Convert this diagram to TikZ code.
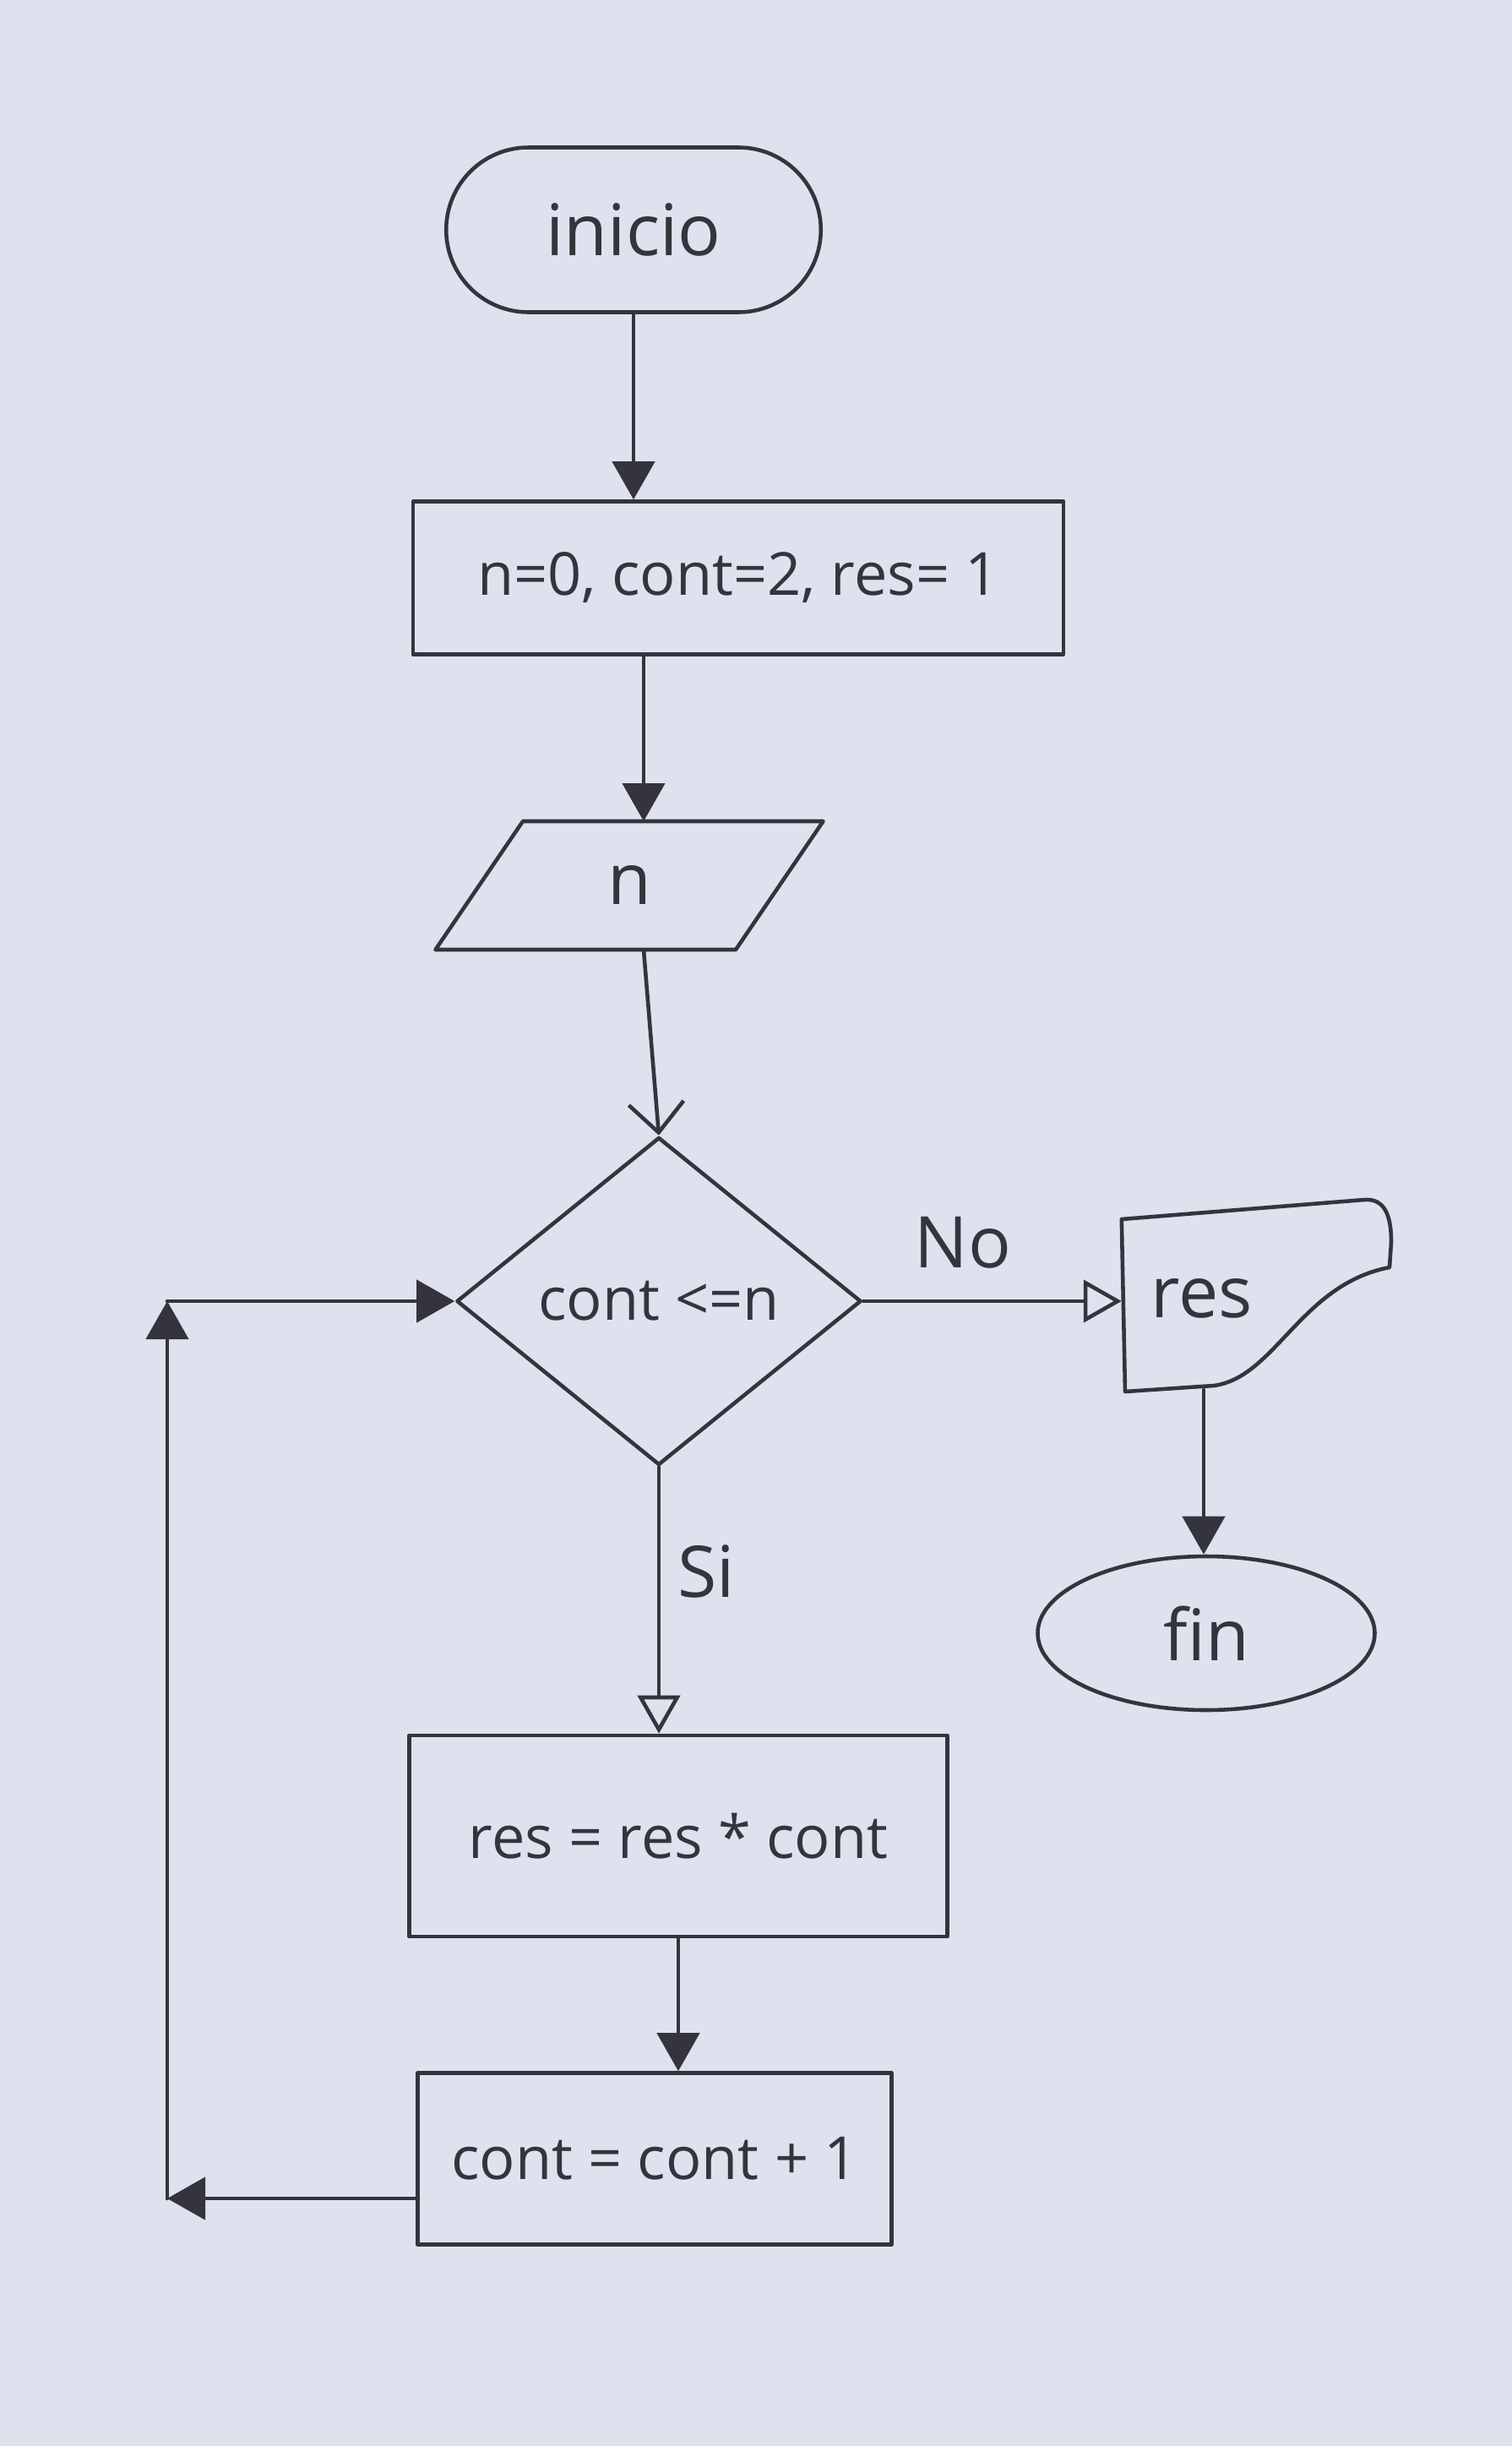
\documentclass[tikz,border=0pt]{standalone}
\usepackage{fontspec}
\setmainfont{Open Sans}
\usetikzlibrary{arrows.meta,shapes.geometric,shapes.misc,calc}
\definecolor{paper}{RGB}{224,225,238}
\definecolor{ink}{RGB}{52,52,60}
\tikzset{
  pen/.style={draw=ink, line width=1.3pt, line join=round, line cap=round},
  txt/.style={text=ink, font=\fontsize{20}{24}\selectfont},
  bigtxt/.style={text=ink, font=\fontsize{24}{28}\selectfont},
  fillarrow/.style={pen, -{Triangle[length=0.45cm,width=0.5cm]}, fill=none},
  openarrow/.style={pen, -{Triangle[open,length=0.45cm,width=0.5cm]}},
  barbarrow/.style={pen, -{Straight Barb[length=0.35cm,width=0.65cm]}},
}
\begin{document}
\begin{tikzpicture}
\fill[paper] (0,0) rectangle (17.9,-28.95);
\useasboundingbox (0,0) rectangle (17.9,-28.95);

% terminals
\node[pen, bigtxt, rounded rectangle, minimum width=4.67cm, minimum height=1.95cm] (inicio) at (7.50,-2.72) {inicio};
\node[pen, bigtxt, ellipse, minimum width=3.99cm, minimum height=1.82cm] (fin) at (14.28,-19.33) {fin};

% process boxes
\node[pen, txt, rectangle, minimum width=7.70cm, minimum height=1.81cm] (init) at (8.74,-6.84) {n=0, cont=2, res= 1};
\node[pen, txt, rectangle, minimum width=6.37cm, minimum height=2.38cm] (mult) at (8.03,-21.73) {res = res * cont};
\node[pen, txt, rectangle, minimum width=5.61cm, minimum height=2.03cm] (incr) at (7.75,-25.55) {cont = cont + 1};

% input
\node[pen, bigtxt, trapezium, trapezium stretches=true, trapezium left angle=66, trapezium right angle=114,
      minimum width=4.6cm, minimum height=1.52cm] (input) at (7.45,-10.48) {n};

% decision
\node[pen, txt, diamond, inner sep=0pt, minimum width=4.79cm, minimum height=3.88cm] (dec) at (7.80,-15.40) {cont <=n};

% output display shape
\node[minimum width=3.19cm, minimum height=2.27cm, inner sep=0pt] (res) at (14.88,-15.35) {};
\draw[pen] (res.west |- 0,-14.43) -- (16.15,-14.20)
  .. controls (16.40,-14.18) and (16.47,-14.40) .. (16.47,-14.70)
  -- (16.45,-15.00)
  .. controls (15.40,-15.20) and (15.10,-16.30) .. (14.37,-16.40)
  -- (13.32,-16.47) -- cycle;
\node[bigtxt] (restext) at (14.23,-15.37) {res};

% labels
\node[bigtxt] (nolabel) at (11.40,-14.71) {No};
\node[bigtxt] (silabel) at (8.36,-18.60) {Si};

% connectors
\draw[fillarrow] (inicio.south) -- (inicio.south |- init.north);
\draw[fillarrow] (7.62,-7.75) -- (7.62,-9.72);
\coordinate (inbot) at (7.62,-11.24);
\draw[barbarrow] (inbot) -- (dec.north);
\draw[openarrow] (dec.east) -- (res.west |- dec.east);
\coordinate (resbot) at (14.25,-16.45);
\draw[fillarrow] (resbot) -- (resbot |- fin.north);
\draw[openarrow] (dec.south) -- (dec.south |- mult.north);
\draw[fillarrow] (mult.south) -- (mult.south |- incr.north);

\coordinate (lc1) at (1.98,-26.02);
\coordinate (lc2) at (1.98,-15.40);
\draw[fillarrow] ([yshift=-0.47cm]incr.west) -- (lc1);
\draw[fillarrow] (lc1) -- (lc2);
\draw[fillarrow] (lc2) -- (dec.west);
\end{tikzpicture}
\end{document}
